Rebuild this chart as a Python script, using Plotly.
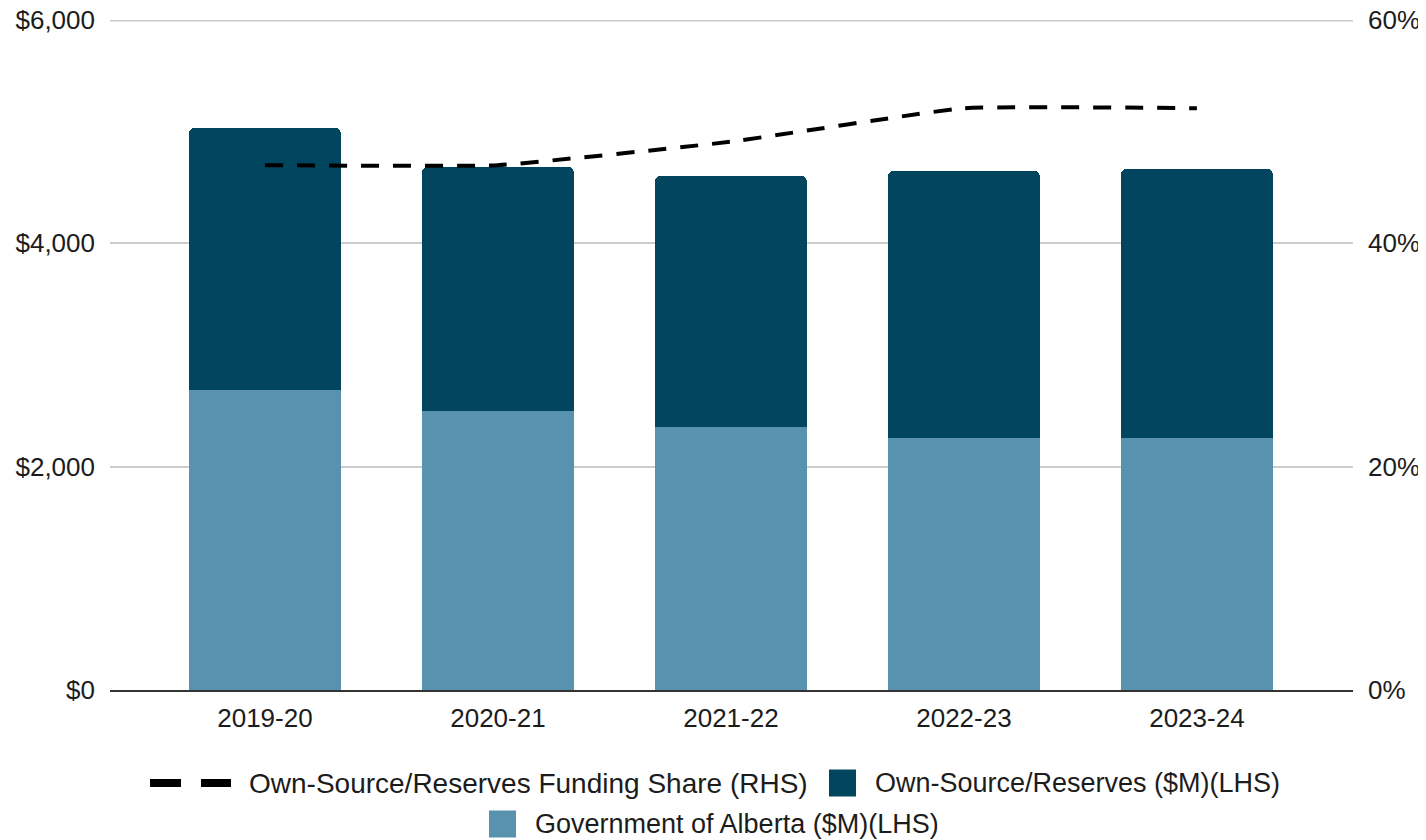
import plotly.graph_objects as go

years = ["2019-20", "2020-21", "2021-22", "2022-23", "2023-24"]
goa = [2687, 2498, 2355, 2257, 2257]
own_source = [2346, 2185, 2248, 2391, 2409]
share = [0.470, 0.470, 0.491, 0.521, 0.521]

left_ticks = [0, 2000, 4000, 6000]
left_labels = ["$0", "$2,000", "$4,000", "$6,000"]
right_ticks = [0, 0.2, 0.4, 0.6]
right_labels = ["0%", "20%", "40%", "60%"]

NAME_LINE = "Own-Source/Reserves Funding Share (RHS)"
NAME_OWN = "Own-Source/Reserves ($M)(LHS)"
NAME_GOA = "Government of Alberta ($M)(LHS)"

DARK = "#02455F"
LIGHT = "#5992AF"
TEXT = "#1c1c1c"
GRID = "#cccccc"
FONT = "Liberation Sans, Arial, sans-serif"

# page has an 8px body margin; plot area in page pixels: x 110..1353, y 20..690
PL, PR, PT, PB = 110, 1353, 20, 690


def px(x):
    return (x - PL) / (PR - PL)


def py(y):
    return (PB - y) / (PB - PT)


fig = go.Figure()
fig.add_trace(go.Bar(
    x=years, y=goa, name=NAME_GOA,
    marker=dict(color=LIGHT, line=dict(width=0)), showlegend=False))
fig.add_trace(go.Bar(
    x=years, y=own_source, name=NAME_OWN,
    marker=dict(color=DARK, line=dict(width=0)), showlegend=False))
fig.add_trace(go.Scatter(
    x=years, y=share, name=NAME_LINE,
    mode="lines", yaxis="y2", showlegend=False,
    line=dict(color="black", width=4, dash="18px,14px",
              shape="spline", smoothing=0.35)))

shapes = []
annotations = []
# top gridline (plotly drops gridlines lying on the plot edge; half is clipped)
shapes.append(dict(type="line", xref="paper", yref="y", x0=0, x1=1,
                   y0=left_ticks[-1], y1=left_ticks[-1], layer="below",
                   line=dict(color=GRID, width=3)))

# manual legend (symbols + labels)
row1, row2 = 783, 824
for x0, x1 in [(150, 181), (201, 231)]:
    shapes.append(dict(type="rect", xref="paper", yref="paper",
                       x0=px(x0), x1=px(x1), y0=py(row1 - 4), y1=py(row1 + 4),
                       fillcolor="black", line=dict(width=0)))
for (x0, cy, col) in [(829, row1, DARK), (489, row2, LIGHT)]:
    shapes.append(dict(type="rect", xref="paper", yref="paper",
                       x0=px(x0), x1=px(x0 + 27), y0=py(cy - 13.5), y1=py(cy + 13.5),
                       fillcolor=col, line=dict(width=0)))
for (x0, cy, label, sz) in [(247, row1, NAME_LINE, 28), (873, row1, NAME_OWN, 27),
                            (533, row2, NAME_GOA, 27)]:
    annotations.append(dict(text=label, xref="paper", yref="paper", x=px(x0), y=py(cy),
                            xanchor="left", yanchor="middle", showarrow=False,
                            font=dict(family=FONT, size=sz, color=TEXT)))

fig.update_layout(
    width=1418, height=832,
    margin=dict(l=102, r=73, t=12, b=150, autoexpand=False),
    paper_bgcolor="white", plot_bgcolor="white",
    barmode="stack", bargap=0.35, barcornerradius=5,
    font=dict(family=FONT, size=26, color=TEXT),
    xaxis=dict(range=[-0.665, 4.67], showgrid=False, showline=True,
               linecolor="#333333", linewidth=2, ticks="", ticklabelstandoff=4,
               automargin=False),
    yaxis=dict(range=[0, 6000], tickmode="array", tickvals=left_ticks,
               ticktext=left_labels, showgrid=True, gridcolor=GRID,
               gridwidth=1.5, zeroline=False, ticks="", ticklabelstandoff=14,
               ticklabeloverflow="allow", automargin=False),
    yaxis2=dict(range=[0, 0.6], tickmode="array", tickvals=right_ticks,
                ticktext=right_labels, overlaying="y", side="right",
                showgrid=False, zeroline=False, ticks="", ticklabelstandoff=14,
                ticklabeloverflow="allow", automargin=False),
    showlegend=False,
    shapes=shapes,
    annotations=annotations,
)

fig.write_html("out.html")
